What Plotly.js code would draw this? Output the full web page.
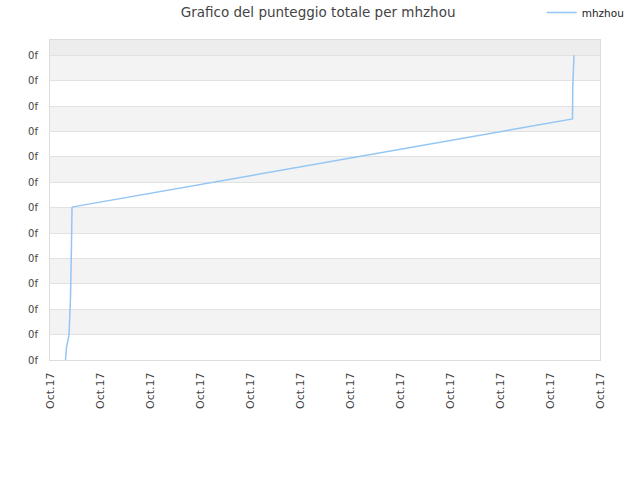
<!DOCTYPE html>
<html>
<head>
<meta charset="utf-8">
<script src="https://cdn.plot.ly/plotly-3.0.1.min.js"></script>
<style>
  html, body { margin: 0; padding: 0; background: #fff; }
  #plot { width: 640px; height: 480px; }
</style>
</head>
<body>
<div id="plot"></div>
<script>
// score history for mhzhou (y, one unit per gridline)
var times = [
  "2017-10-01 07:26", "2017-10-01 07:55", "2017-10-01 09:07",
  "2017-10-01 09:50", "2017-10-01 10:19", "2017-10-01 10:34",
  "2017-10-01 11:02", "2017-10-11 10:48", "2017-10-11 10:55",
  "2017-10-11 11:31"
];
var scores = [0, 0.5, 0.98, 2.44, 4.5, 6.0, 6.03, 9.49, 10.75, 12.0];

var yTicks = [0, 1, 2, 3, 4, 5, 6, 7, 8, 9, 10, 11, 12];
var yLabels = yTicks.map(function () { return "0f"; });

var grayBands = [[1, 2], [3, 4], [5, 6], [7, 8], [9, 10], [11, 12]];

var shapes = grayBands.map(function (b) {
  return {
    type: "rect", xref: "paper", yref: "y", x0: 0, x1: 1, y0: b[0], y1: b[1],
    fillcolor: "#f3f3f3", line: { width: 0 }, layer: "below"
  };
});
// darker strip above the last gridline
shapes.push({
  type: "rect", xref: "paper", yref: "y", x0: 0, x1: 1, y0: 12, y1: 12.6,
  fillcolor: "#ededed", line: { width: 0 }, layer: "below"
});

var trace = {
  x: times,
  y: scores,
  type: "scatter",
  mode: "lines",
  name: "mhzhou",
  line: { color: "#94c6f5", width: 1.5 }
};

var layout = {
  width: 640,
  height: 480,
  margin: { l: 50, r: 40, t: 40, b: 120, autoexpand: false },
  paper_bgcolor: "#fff",
  plot_bgcolor: "#fff",
  font: { family: "DejaVu Sans, sans-serif", size: 10, color: "#444" },
  title: {
    text: "Grafico del punteggio totale per mhzhou",
    font: { size: 13.5, color: "#444" },
    x: 0.497, xanchor: "center", y: 0.975, yanchor: "middle"
  },
  showlegend: true,
  legend: {
    x: 0.894, y: 1.086, xanchor: "left", yanchor: "middle",
    font: { size: 10.5, color: "#222" },
    bgcolor: "rgba(0,0,0,0)"
  },
  xaxis: {
    type: "date",
    range: ["2017-10-01", "2017-10-12"],
    tick0: "2017-10-01",
    dtick: 86400000,
    tickformat: "%b.%y",
    tickangle: -90,
    showgrid: false,
    zeroline: false,
    showline: true,
    linecolor: "#dddddd",
    mirror: true,
    ticks: "",
    ticklabelstandoff: 7,
    automargin: false,
    tickfont: { size: 11, color: "#444" }
  },
  yaxis: {
    range: [0, 12.6],
    tickvals: yTicks,
    ticktext: yLabels,
    showgrid: true,
    gridcolor: "#e2e2e2",
    zeroline: false,
    showline: true,
    linecolor: "#dddddd",
    mirror: true,
    ticks: "",
    ticklabelstandoff: 9,
    automargin: false,
    tickfont: { size: 10, color: "#444" }
  },
  shapes: shapes
};

Plotly.newPlot("plot", [trace], layout, { displayModeBar: false, staticPlot: true });
</script>
</body>
</html>
